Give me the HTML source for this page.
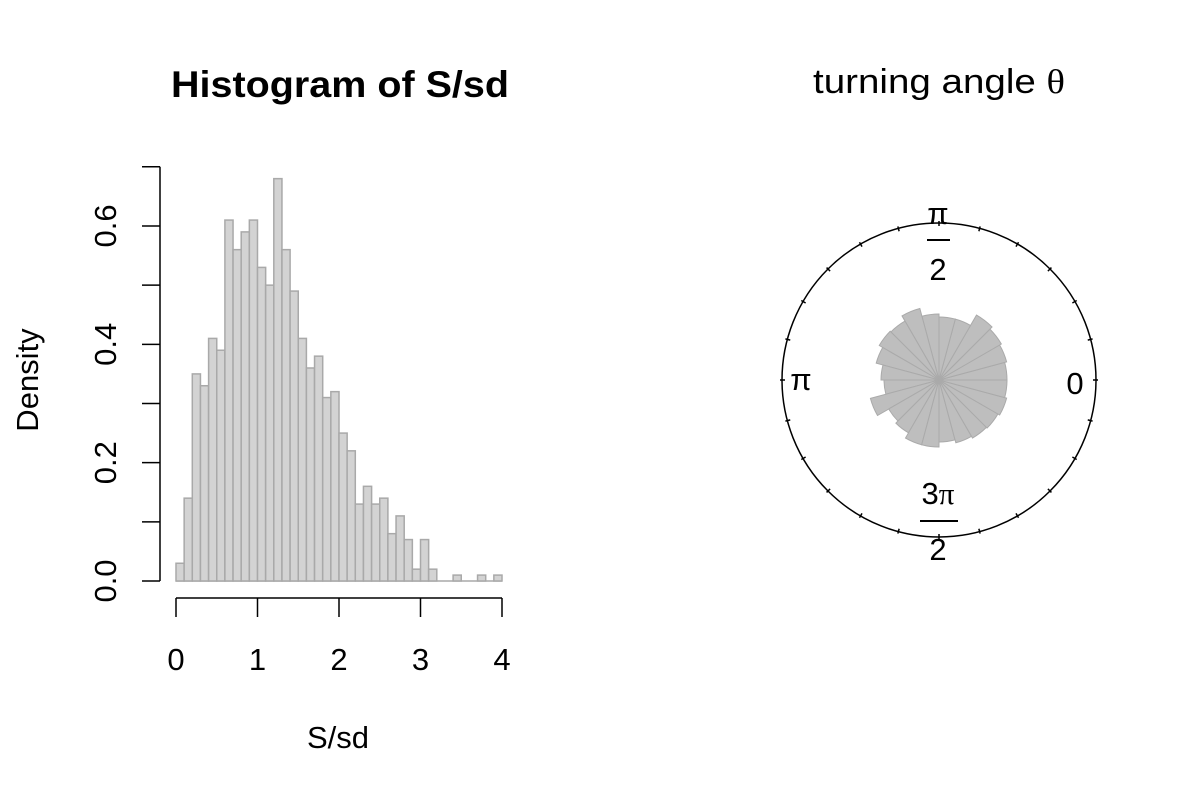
<!DOCTYPE html>
<html><head><meta charset="utf-8"><style>
body{margin:0;background:#fff}
svg text{font-family:"Liberation Sans",sans-serif;fill:#000}
</style></head><body>
<svg id="c" width="1200" height="800" xmlns="http://www.w3.org/2000/svg">
<text x="340" y="97" font-size="37" font-weight="bold" text-anchor="middle" textLength="338" lengthAdjust="spacingAndGlyphs">Histogram of S/sd</text>
<text x="338" y="748" font-size="31" text-anchor="middle">S/sd</text>
<text transform="translate(38,380) rotate(-90)" font-size="31" text-anchor="middle">Density</text>
<g id="hist"></g>
<g id="xax"></g>
<g id="yax"></g>
<text x="939" y="93" font-size="34" text-anchor="middle" textLength="252" lengthAdjust="spacingAndGlyphs">turning angle <tspan font-family="Liberation Serif">θ</tspan></text>
<g id="rose"></g>
<g font-size="31">
<text x="938" y="224" text-anchor="middle" font-family="Liberation Serif">π</text>
<line x1="927" y1="240" x2="950" y2="240" stroke="#000" stroke-width="2"/>
<text x="938" y="280" text-anchor="middle">2</text>
<text x="1075" y="394" text-anchor="middle">0</text>
<text x="801" y="390" text-anchor="middle" font-family="Liberation Serif">π</text>
<text x="938" y="504" text-anchor="middle">3<tspan font-family="Liberation Serif">π</tspan></text>
<line x1="920" y1="521" x2="958" y2="521" stroke="#000" stroke-width="2"/>
<text x="938" y="560" text-anchor="middle">2</text>
</g>
</svg>
<script>
const density=[0.03,0.14,0.35,0.33,0.41,0.39,0.61,0.56,0.59,0.61,0.53,0.50,0.68,0.56,0.49,0.41,0.36,0.38,0.31,0.32,0.25,0.22,0.13,0.16,0.13,0.14,0.08,0.11,0.07,0.02,0.07,0.02,0,0,0.01,0,0,0.01,0,0.01];
const binStart=0, binWidth=0.1;
const xTicks=[0,1,2,3,4];
const yTicks=[0,0.1,0.2,0.3,0.4,0.5,0.6,0.7];
const yLabels=["0.0","","0.2","","0.4","","0.6",""];
const roseRadii=[68,70,72,75,63,63,66,74,68,69,65,58,55,71,58,61,67,67,62,65,67,68,70,68];
const NS="http://www.w3.org/2000/svg";
const X=v=>176+v*81.5, Y=v=>581-v*591.7;
function mk(t,a,p){const e=document.createElementNS(NS,t);for(const k in a)e.setAttribute(k,a[k]);p.appendChild(e);return e;}
const hist=document.getElementById('hist');
const base=mk('line',{x1:X(binStart),y1:Y(0),x2:X(binStart+density.length*binWidth),y2:Y(0),stroke:'#a9a9a9','stroke-width':1.5},hist);


density.forEach((d,i)=>{const x0=X(binStart+i*binWidth),x1=X(binStart+(i+1)*binWidth);
 const r=mk('rect',{x:x0,y:Y(d),width:x1-x0,height:Y(0)-Y(d),fill:'#d3d3d3',stroke:'#a9a9a9','stroke-width':1.5},hist);
 
 });
const xax=document.getElementById('xax');
mk('line',{x1:X(xTicks[0]),y1:598,x2:X(xTicks[xTicks.length-1]),y2:598,stroke:'#000','stroke-width':1.5},xax);
xTicks.forEach(t=>{mk('line',{x1:X(t),y1:598,x2:X(t),y2:617,stroke:'#000','stroke-width':1.5},xax);
 const tx=mk('text',{x:X(t),y:670,'font-size':31,'text-anchor':'middle'},xax);tx.textContent=t;
 
 });
const yax=document.getElementById('yax');
mk('line',{x1:160,y1:Y(yTicks[0]),x2:160,y2:Y(yTicks[yTicks.length-1]),stroke:'#000','stroke-width':1.5},yax);
yTicks.forEach((t,i)=>{mk('line',{x1:142,y1:Y(t),x2:160,y2:Y(t),stroke:'#000','stroke-width':1.5},yax);
 if(yLabels[i]){const tx=mk('text',{transform:`translate(116,${Y(t)}) rotate(-90)`,'font-size':31,'text-anchor':'middle'},yax);tx.textContent=yLabels[i];
 
 }});
const rose=document.getElementById('rose');
const cx=939,cy=380,R=157;
mk('circle',{cx:cx,cy:cy,r:R,fill:'none',stroke:'#000','stroke-width':1.5},rose);
for(let k=0;k<24;k++){const a=k*Math.PI/12;mk('line',{x1:cx+(R+2)*Math.cos(a),y1:cy-(R+2)*Math.sin(a),x2:cx+(R-3)*Math.cos(a),y2:cy-(R-3)*Math.sin(a),stroke:'#000','stroke-width':1.5},rose);}
const n=roseRadii.length;
roseRadii.forEach((r,k)=>{const a0=k*2*Math.PI/n,a1=(k+1)*2*Math.PI/n;
 const p=mk('path',{d:`M${cx},${cy}L${cx+r*Math.cos(a0)},${cy-r*Math.sin(a0)}A${r},${r} 0 0 0 ${cx+r*Math.cos(a1)},${cy-r*Math.sin(a1)}Z`,fill:'#bebebe',stroke:'#aaaaaa','stroke-width':1},rose);
 
 });
</script>
</body></html>
